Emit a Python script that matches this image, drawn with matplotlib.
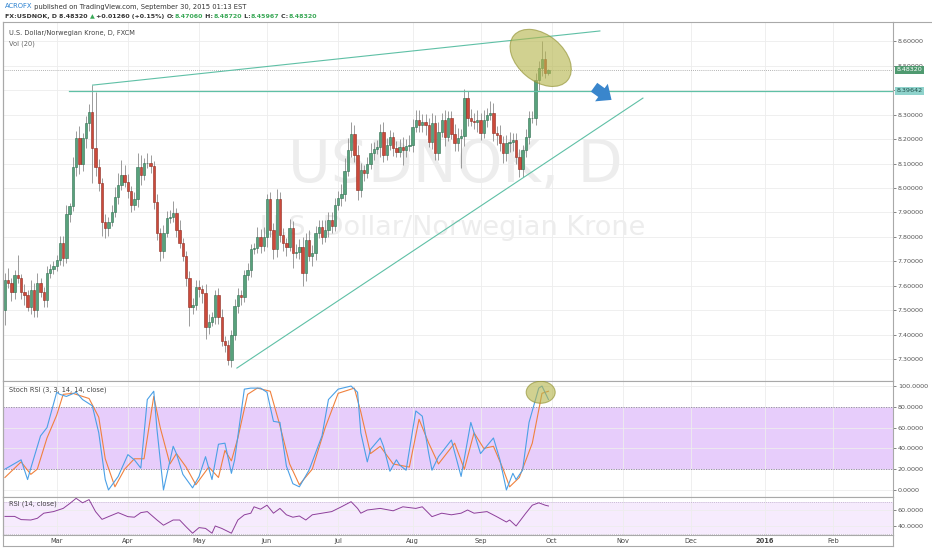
import numpy as np
import matplotlib
matplotlib.use("Agg")
import matplotlib.pyplot as plt
from matplotlib.patches import Ellipse
from matplotlib.transforms import IdentityTransform, blended_transform_factory

plt.rcParams['font.family'] = ['DejaVu Sans']

# ---- daily USDNOK candles (open = previous close) ----
first_open = 7.502
closes = [
    7.624, 7.611, 7.577, 7.645, 7.631, 7.577, 7.563, 7.516, 7.584, 7.502,
    7.614, 7.577, 7.543, 7.652, 7.668, 7.682, 7.706, 7.774, 7.713, 7.892,
    7.928, 8.087, 8.203, 8.098, 8.203, 8.264, 8.311, 8.162, 8.087, 8.019,
    7.863, 7.835, 7.863, 7.901, 7.965, 8.012, 8.053, 8.026, 7.989, 7.931,
    7.954, 8.084, 8.053, 8.101, 8.103, 8.090, 7.944, 7.818, 7.744, 7.818,
    7.876, 7.880, 7.897, 7.829, 7.774, 7.722, 7.631, 7.516, 7.522, 7.595,
    7.586, 7.570, 7.434, 7.455, 7.475, 7.563, 7.475, 7.377, 7.359, 7.298,
    7.400, 7.518, 7.563, 7.554, 7.645, 7.665, 7.750, 7.754, 7.801, 7.763,
    7.801, 7.954, 7.829, 7.750, 7.955, 7.808, 7.774, 7.761, 7.835, 7.733,
    7.740, 7.761, 7.652, 7.788, 7.723, 7.736, 7.815, 7.839, 7.801, 7.829,
    7.870, 7.845, 7.931, 7.958, 7.976, 8.071, 8.155, 8.219, 8.135, 7.992,
    8.074, 8.060, 8.098, 8.144, 8.158, 8.166, 8.230, 8.135, 8.176, 8.207,
    8.162, 8.148, 8.169, 8.155, 8.171, 8.176, 8.250, 8.278, 8.257, 8.271,
    8.257, 8.189, 8.267, 8.144, 8.230, 8.278, 8.210, 8.284, 8.220, 8.182,
    8.203, 8.212, 8.366, 8.284, 8.275, 8.270, 8.278, 8.226, 8.278, 8.298,
    8.307, 8.223, 8.216, 8.182, 8.141, 8.185, 8.189, 8.195, 8.128, 8.076,
    8.155, 8.210, 8.284, 8.286, 8.441, 8.488, 8.525, 8.4706, 8.4832,
]
wick_up = [
    .03, .05, .02, .02, .08, .02, .03, .02, .04, .03,
    .04, .02, .02, .03, .02, .02, .02, .03, .03, .04,
    .01, .04, .03, .05, .02, .03, .03, .11, .23, .03,
    .02, .03, .02, .03, .04, .05, .06, .04, .03, .02,
    .03, .06, .05, .02, .04, .03, .02, .03, .02, .03,
    .03, .03, .05, .02, .04, .02, .02, .03, .03, .03,
    .03, .02, .04, .03, .02, .02, .03, .03, .02, .02,
    .02, .03, .03, .02, .02, .03, .02, .02, .04, .03,
    .04, .02, .03, .03, .04, .03, .03, .02, .04, .03,
    .03, .03, .04, .03, .04, .03, .03, .03, .03, .04,
    .03, .03, .03, .03, .04, .05, .05, .05, .04, .04,
    .03, .02, .03, .04, .03, .03, .03, .04, .03, .03,
    .02, .03, .03, .04, .03, .04, .03, .04, .04, .03,
    .03, .03, .04, .03, .04, .03, .04, .03, .03, .04,
    .04, .03, .04, .03, .04, .03, .04, .03, .04, .03,
    .05, .04, .03, .04, .03, .03, .04, .03, .03, .03,
    .02, .03, .03, .03, .03, .03, .075, .035, .004,
]
wick_dn = [
    .06, .02, .04, .03, .02, .03, .04, .02, .03, .03,
    .03, .02, .03, .03, .02, .02, .02, .02, .03, .02,
    .03, .02, .04, .04, .03, .04, .03, .14, .04, .03,
    .06, .04, .03, .02, .02, .03, .02, .02, .03, .03,
    .02, .03, .04, .02, .02, .03, .03, .03, .04, .03,
    .02, .02, .02, .03, .02, .02, .03, .08, .03, .02,
    .03, .04, .05, .03, .02, .03, .03, .02, .03, .02,
    .03, .02, .03, .03, .02, .02, .03, .02, .02, .03,
    .02, .04, .03, .04, .03, .03, .03, .04, .02, .06,
    .02, .03, .05, .03, .02, .04, .03, .02, .03, .02,
    .03, .03, .02, .02, .03, .03, .02, .03, .03, .04,
    .03, .03, .02, .02, .03, .02, .04, .03, .02, .02,
    .03, .02, .02, .06, .03, .02, .03, .02, .03, .03,
    .04, .02, .03, .03, .03, .02, .04, .02, .02, .03,
    .03, .12, .04, .03, .02, .03, .04, .03, .02, .03,
    .02, .03, .04, .03, .04, .03, .04, .04, .03, .03,
    .03, .03, .03, .02, .03, .04, .03, .02, .011,
]

# month labels sit on the first bar of each month
month_bars = [16, 38, 60, 81, 103, 126, 147, 169, 191, 212, 235, 256]
month_labels = ['Mar', 'Apr', 'May', 'Jun', 'Jul', 'Aug', 'Sep', 'Oct',
                'Nov', 'Dec', '2016', 'Feb']
price_ticks = [7.3, 7.4, 7.5, 7.6, 7.7, 7.8, 7.9, 8.0, 8.1, 8.2, 8.3, 8.4, 8.5, 8.6]
last_price = 8.4832
level_price = 8.39642

# drawn trendlines / marks (bar, price)
upper_line_bars = [27.1, 183.9]
upper_line_prices = [8.420, 8.641]
lower_line_bars = [71.7, 197.2]
lower_line_prices = [7.265, 8.367]
level_start_bar = 19.7
circle_bar, circle_price = 165.6, 8.531
arrow_from = (181.4, 8.418)
arrow_to = (188.2, 8.353)

# Stoch RSI (3, 3, 14, 14): %K blue, %D orange
k_bars = [0, 5, 7, 8, 11, 13, 16, 17, 19, 22, 24, 27, 29, 31, 32, 35, 38, 40, 42, 44,
          46, 47, 49, 52, 53, 55, 58, 60, 62, 64, 66, 68, 70, 71, 74, 76, 79, 81, 83, 85,
          87, 89, 91, 94, 98, 100, 103, 107, 109, 110, 112, 113, 116, 117, 119, 121, 122,
          124, 127, 129, 131, 132, 134, 138, 141, 144, 147, 151, 153, 155, 157, 158, 160,
          162, 165, 166, 168]
k_vals = [20, 29, 10, 21, 52, 60, 94, 92, 90, 94, 87, 81, 55, 10, 0, 13, 34, 29, 21, 87,
          95, 58, 0, 42, 35, 15, 2, 13, 32, 10, 44, 45, 16, 29, 97, 98, 98, 94, 66, 65,
          23, 6, 3, 19, 52, 87, 97, 100, 94, 55, 27, 39, 50, 42, 18, 29, 24,
          19, 76, 71, 35, 19, 32, 48, 13, 65, 35, 50, 29, 0, 16, 10, 19,
          65, 98, 100, 87]
d_bars = [0, 5, 8, 10, 13, 16, 18, 21, 26, 29, 31, 34, 37, 40, 43, 46, 48, 51, 53, 56,
          59, 63, 66, 68, 70, 72, 75, 78, 82, 85, 88, 91, 95, 99, 103, 108, 110, 113, 116,
          120, 125, 128, 131, 134, 139, 142, 145, 148, 151, 154, 156, 159, 163, 166, 168]
d_vals = [12, 27, 15, 20, 50, 72, 92, 93, 88, 70, 30, 3, 20, 30, 30, 90, 60, 25, 35, 22,
          5, 22, 12, 38, 28, 50, 92, 98, 95, 62, 25, 5, 20, 60, 93, 98, 75, 35, 42,
          25, 22, 68, 45, 25, 45, 20, 55, 40, 42, 20, 3, 12, 45, 93, 95]

# RSI (14, close)
rsi_bars = [0, 3, 5, 8, 10, 12, 15, 18, 20, 22, 24, 26, 28, 30, 32, 35, 38, 40, 42, 44,
            47, 49, 52, 54, 56, 58, 60, 62, 64, 65, 67, 70, 72, 74, 76, 77, 79, 81, 83, 85,
            87, 89, 91, 93, 95, 98, 101, 104, 107, 109, 110, 112, 116, 120, 123, 127, 129,
            132, 135, 138, 141, 143, 145, 149, 152, 155, 156, 158, 161, 163, 165, 167, 168]
rsi_vals = [52, 52, 48, 47.5, 49.6, 56, 58, 62, 68, 74.6, 69, 73, 58, 48.3, 51.7, 56.7, 51.7,
            51, 56.7, 58, 47.5, 41, 47.5, 47.5, 39, 31, 38, 37, 31, 40, 37, 31, 47.5, 54, 56,
            64, 61, 66, 56, 62, 54, 51, 52.5, 47.5, 54, 56, 58, 64, 70.4, 62, 56, 60, 62, 59,
            64, 62, 64, 51.7, 56, 54, 56, 60, 56, 58, 51.7, 45, 47.5, 40, 56, 66, 69, 66, 65]

# ---- figure layout (pixel based, 932 x 550) ----
W, H = 932, 550
fig = plt.figure(figsize=(W / 100, H / 100), dpi=100)
fig.patch.set_facecolor('white')


def px_axes(x0, y0, x1, y1):
    return fig.add_axes([x0 / W, 1 - y1 / H, (x1 - x0) / W, (y1 - y0) / H])


ax = px_axes(3, 22, 893, 381)
ax_st = px_axes(3, 381, 893, 497)
ax_rsi = px_axes(3, 497, 893, 535)

GRID = '#ededed'
SPINE = '#a9a9a9'
LABEL = '#555555'
TREND = '#5fc0a6'
XMIN, XMAX = -0.6, 274.5

for a in (ax, ax_st, ax_rsi):
    a.set_xlim(XMIN, XMAX)
    a.set_facecolor('white')
    for s in a.spines.values():
        s.set_color(SPINE)
        s.set_linewidth(0.8)
    a.yaxis.tick_right()
    a.tick_params(axis='y', labelsize=4.6, colors=LABEL, length=2, width=0.5, pad=1.5)
    a.tick_params(axis='x', length=0, labelbottom=False)
    a.set_xticks(month_bars)
    a.grid(True, color=GRID, lw=0.6)
    a.set_axisbelow(True)

# ---- price panel ----
bars = np.arange(len(closes))
closes_a = np.array(closes)
opens = np.r_[first_open, closes_a[:-1]]
highs = np.maximum(opens, closes_a) + np.array(wick_up)
lows = np.minimum(opens, closes_a) - np.array(wick_dn)
up = closes_a >= opens

ax.set_ylim(7.2122, 8.6776)
ax.set_yticks(price_ticks)
ax.set_yticklabels([f'{p:.5f}' for p in price_ticks])

ax.text(0.508, 0.60, 'USDNOK, D', transform=ax.transAxes, ha='center', va='center',
        fontsize=42, color='#ededed', zorder=0)
ax.text(0.505, 0.425, 'U.S. Dollar/Norwegian Krone', transform=ax.transAxes, ha='center',
        va='center', fontsize=19.5, color='#ededed', zorder=0)

ax.vlines(bars, lows, highs, color='#8c8c8c', lw=0.6, zorder=2)
body_h = np.maximum(np.abs(closes_a - opens), 0.002)
body_b = np.minimum(opens, closes_a)
ax.bar(bars[up], body_h[up], bottom=body_b[up], width=0.72, color='#58a27c',
       edgecolor='#2f6e50', lw=0.4, zorder=3)
ax.bar(bars[~up], body_h[~up], bottom=body_b[~up], width=0.72, color='#cc4a3b',
       edgecolor='#8c2b20', lw=0.4, zorder=3)

ax.axhline(last_price, color='#9a9a9a', lw=0.6, ls=(0, (1, 1.5)), zorder=1)
ax.plot(upper_line_bars, upper_line_prices, color=TREND, lw=0.8, zorder=4)
ax.plot(lower_line_bars, lower_line_prices, color=TREND, lw=0.8, zorder=4)
ax.plot([level_start_bar, XMAX], [level_price, level_price], color=TREND, lw=0.9, zorder=4)

fig.canvas.draw()
cx, cy = ax.transData.transform((circle_bar, circle_price))
ax.add_artist(Ellipse((cx, cy), 70, 46, angle=-40, transform=IdentityTransform(),
                      fc='#b5b54c', ec='#8f8f2e', alpha=0.62, lw=0.8, zorder=5))
ax.annotate('', xy=arrow_to, xytext=arrow_from,
            arrowprops=dict(arrowstyle='simple,head_length=0.75,head_width=1.3,tail_width=0.65',
                            color='#3a86cc', lw=0, mutation_scale=12), zorder=6)

ytr = blended_transform_factory(ax.transAxes, ax.transData)
ax.text(1.004, last_price, '8.48320', transform=ytr, va='center', ha='left', fontsize=4.6,
        color='white', bbox=dict(boxstyle='square,pad=0.25', fc='#4f9a70', ec='none'), zorder=7,
        clip_on=False)
ax.text(1.004, level_price, '8.39642', transform=ytr, va='center', ha='left', fontsize=4.6,
        color='#1f4f4a', bbox=dict(boxstyle='square,pad=0.25', fc='#8fd3cc', ec='none'), zorder=7,
        clip_on=False)

ax.text(0.0068, 0.977, 'U.S. Dollar/Norwegian Krone, D, FXCM', transform=ax.transAxes,
        fontsize=4.8, color='#444444', va='top', ha='left')
ax.text(0.0068, 0.948, 'Vol (20)', transform=ax.transAxes, fontsize=4.8, color='#666666',
        va='top', ha='left')

# ---- Stoch RSI panel ----
ax_st.set_ylim(-6.8, 104.85)
st_ticks = [0, 20, 40, 60, 80, 100]
ax_st.set_yticks(st_ticks)
ax_st.set_yticklabels([f'{v:.4f}' for v in st_ticks])
ax_st.axhspan(20, 80, color='#e7cdfb', zorder=0.5, lw=0)
ax_st.axhline(80, color='#8e7fa0', lw=0.6, ls=(0, (1.5, 1.5)), zorder=1)
ax_st.axhline(20, color='#8e7fa0', lw=0.6, ls=(0, (1.5, 1.5)), zorder=1)
ax_st.plot(d_bars, d_vals, color='#f0813e', lw=0.8, zorder=3)
ax_st.plot(k_bars, k_vals, color='#4ba0e6', lw=0.8, zorder=4)
fig.canvas.draw()
sx, sy = ax_st.transData.transform((circle_bar, 94))
ax_st.add_artist(Ellipse((sx, sy), 29, 22, transform=IdentityTransform(), fc='#b5b54c',
                         ec='#8f8f2e', alpha=0.62, lw=0.8, zorder=5))
ax_st.text(0.0068, 0.95, 'Stoch RSI (3, 3, 14, 14, close)', transform=ax_st.transAxes,
           fontsize=4.8, color='#444444', va='top', ha='left', zorder=6)

# ---- RSI panel ----
ax_rsi.set_ylim(28.75, 76.25)
ax_rsi.set_yticks([40, 60])
ax_rsi.set_yticklabels(['40.0000', '60.0000'])
ax_rsi.axhspan(30, 70, color='#f6ebfd', zorder=0.5, lw=0)
ax_rsi.axhline(70, color='#b9a9c6', lw=0.5, ls=(0, (1.5, 1.5)), zorder=1)
ax_rsi.axhline(30, color='#b9a9c6', lw=0.5, ls=(0, (1.5, 1.5)), zorder=1)
ax_rsi.plot(rsi_bars, rsi_vals, color='#8d3f9a', lw=0.7, zorder=3)
ax_rsi.text(0.0068, 0.92, 'RSI (14, close)', transform=ax_rsi.transAxes,
            fontsize=4.8, color='#444444', va='top', ha='left', zorder=6)

# month labels under the last panel
for b, lab in zip(month_bars, month_labels):
    ax_rsi.text(b, -0.16, lab, transform=blended_transform_factory(ax_rsi.transData, ax_rsi.transAxes),
                ha='center', va='center', fontsize=4.8, color='#444444',
                weight='bold' if lab == '2016' else 'normal')

# outer frame lines
fig.add_artist(plt.Line2D([3 / W, 3 / W], [1 - 546 / H, 1 - 22 / H], color=SPINE, lw=0.8))
fig.add_artist(plt.Line2D([3 / W, 893 / W], [1 - 546 / H, 1 - 546 / H], color=SPINE, lw=0.8))
fig.add_artist(plt.Line2D([893 / W, 893 / W], [1 - 546 / H, 1 - 535 / H], color=SPINE, lw=0.8))
fig.add_artist(plt.Line2D([893 / W, W / W], [1 - 22 / H, 1 - 22 / H], color=SPINE, lw=0.8))


# ---- header lines (multi-colour runs) ----
def text_run(x, y, parts, size, weight='normal'):
    r = fig.canvas.get_renderer()
    for s, c in parts:
        t = fig.text(x / W, 1 - y / H, s, fontsize=size, color=c, va='center', ha='left',
                     weight=weight)
        x += t.get_window_extent(r).width


DARK = '#333333'
GREEN = '#3aa857'
text_run(5, 6.5, [('ACROFX', '#2a80d0'),
                  (' published on TradingView.com, September 30, 2015 01:13 EST', DARK)], 4.85)
text_run(5, 16.5, [('FX:USDNOK, D ', DARK), ('8.48320 ', DARK), ('\u25b2', GREEN),
                   (' +0.01260 (+0.15%) ', DARK), ('O:', DARK), ('8.47060', GREEN),
                   (' H:', DARK), ('8.48720', GREEN), (' L:', DARK), ('8.45967', GREEN),
                   (' C:', DARK), ('8.48320', GREEN)], 4.5, weight='bold')

fig.savefig('out.png', dpi=100)
